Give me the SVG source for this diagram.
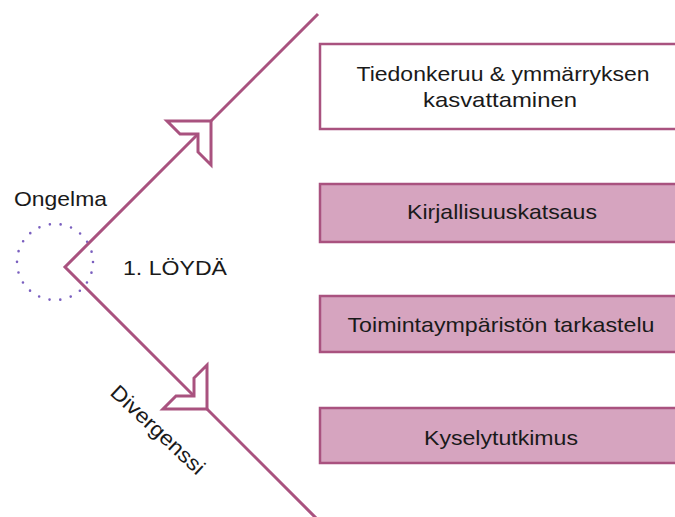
<svg xmlns="http://www.w3.org/2000/svg" width="675" height="517" viewBox="0 0 675 517">
  <style>
    .lbl { font-family: "Liberation Sans", Arial, sans-serif; font-size: 21px; fill: #1a1a1a; }
    .mid { text-anchor: middle; }
    .box { stroke: #a9527f; stroke-width: 2.5; }
    .plain { fill: #ffffff; }
    .filled { fill: #d6a4bf; }
    .edge { stroke: #a9527f; stroke-width: 3; fill: none; }
    .head { stroke: #a9527f; stroke-width: 3; fill: #ffffff; stroke-linejoin: miter; }
  </style>
  <defs>
    <!-- notched open arrowhead, tip at origin, pointing up-right -->
    <path id="notch" d="M0,0 L-44,0 L-31,13 L-13,13 L-13,31 L0,44 Z"/>
  </defs>

  <rect width="675" height="517" fill="#ffffff"/>

  <g id="problem">
    <circle cx="55" cy="262" r="38" fill="none" stroke="#7a5fbf" stroke-width="2.6" stroke-linecap="round" stroke-dasharray="0 10.85"/>
    <text class="lbl" x="14" y="206" textLength="93" lengthAdjust="spacingAndGlyphs">Ongelma</text>
  </g>

  <g id="connectors">
    <polyline class="edge" points="318,14 65,267 318,520"/>
    <use href="#notch" class="head" transform="translate(211,121)"/>
    <use href="#notch" class="head" transform="translate(207,409) rotate(90)"/>
  </g>

  <g id="phase">
    <text class="lbl" x="123" y="275" textLength="104" lengthAdjust="spacingAndGlyphs">1. LÖYDÄ</text>
  </g>

  <g id="divergence">
    <text class="lbl mid" transform="translate(153,435) rotate(43)" textLength="120" lengthAdjust="spacingAndGlyphs">Divergenssi</text>
  </g>

  <g id="node-tiedonkeruu">
    <rect class="box plain" x="320" y="44" width="370" height="85"/>
    <text class="lbl mid" x="503" y="81" textLength="293" lengthAdjust="spacingAndGlyphs">Tiedonkeruu &amp; ymmärryksen</text>
    <text class="lbl mid" x="500" y="107" textLength="154" lengthAdjust="spacingAndGlyphs">kasvattaminen</text>
  </g>

  <g id="node-kirjallisuus">
    <rect class="box filled" x="320" y="184" width="370" height="58"/>
    <text class="lbl mid" x="502" y="219" textLength="190" lengthAdjust="spacingAndGlyphs">Kirjallisuuskatsaus</text>
  </g>

  <g id="node-toimintaymparisto">
    <rect class="box filled" x="320" y="296" width="370" height="56"/>
    <text class="lbl mid" x="501" y="332" textLength="307" lengthAdjust="spacingAndGlyphs">Toimintaympäristön tarkastelu</text>
  </g>

  <g id="node-kysely">
    <rect class="box filled" x="320" y="408" width="370" height="55"/>
    <text class="lbl mid" x="501" y="445" textLength="154" lengthAdjust="spacingAndGlyphs">Kyselytutkimus</text>
  </g>
</svg>
